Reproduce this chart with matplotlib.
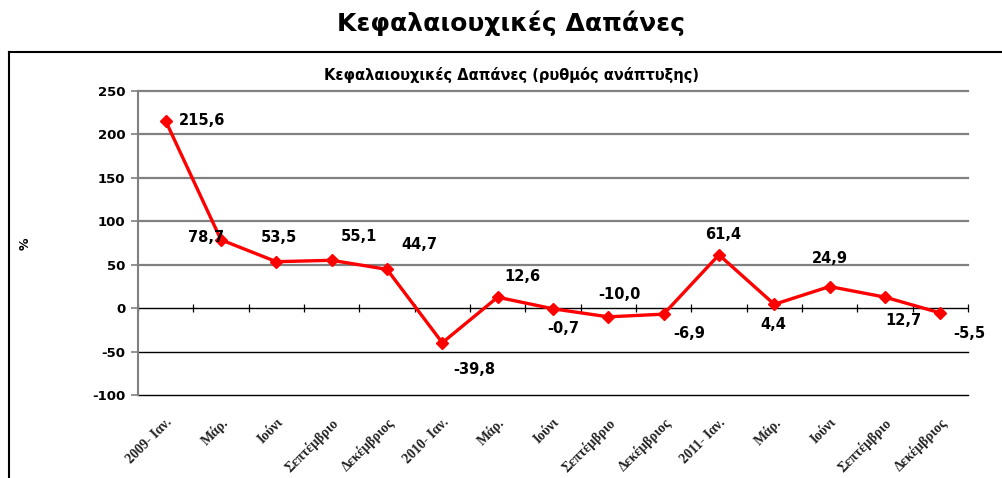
import matplotlib.pyplot as plt
from matplotlib.lines import Line2D
import numpy as np

# Δεδομένα
months = ['2009- Ιαν.', 'Μάρ.', 'Ιούνι', 'Σεπτέμβριο', 'Δεκέμβριος',
          '2010- Ιαν.', 'Μάρ.', 'Ιούνι', 'Σεπτέμβριο', 'Δεκέμβριος',
          '2011- Ιαν.', 'Μάρ.', 'Ιούνι', 'Σεπτέμβριο', 'Δεκέμβριος']
growth = [215.6, 78.7, 53.5, 55.1, 44.7, -39.8, 12.6, -0.7, -10.0, -6.9,
          61.4, 4.4, 24.9, 12.7, -5.5]
yticks = [-100, -50, 0, 50, 100, 150, 200, 250]

# Μετατόπιση ετικετών (pixels)
label_offsets = [(36, 0), (-15, 2), (3, 24), (27, 24), (32, 25), (32, -27),
                 (25, 21), (10, -20), (11, 22), (26, -19), (4, 20),
                 (-1, -20), (0, 28), (18, -23), (29, -21)]

plt.rcParams['font.family'] = ['DejaVu Sans']

fig = plt.figure(figsize=(10.02, 4.78), dpi=100)
ax = fig.add_axes([0.1377, 0.1736, 0.966 - 0.1377, 0.8096 - 0.1736])

x = np.arange(len(months))
ax.set_xlim(-0.5, len(months) - 0.5)
ax.set_ylim(-100, 250)

# Πλέγμα
for t in yticks:
    if t > 0:
        ax.axhline(t, color='#808080', lw=1.6, zorder=1, clip_on=False)
    elif t < 0:
        ax.axhline(t, color='black', lw=1.0, zorder=1, clip_on=False)
ax.axhline(0, color='black', lw=1.0, zorder=2)
# υποδιαιρέσεις στον άξονα 0
ax.plot(np.arange(len(months) + 1) - 0.5, np.zeros(len(months) + 1),
        linestyle='none', marker='|', color='black', markersize=6,
        markeredgewidth=0.9, zorder=2, clip_on=False)

ax.plot(x, growth, color='#ff0000', lw=2.4, marker='D', markersize=6,
        zorder=3, clip_on=False)

for xi, v, off in zip(x, growth, label_offsets):
    ax.annotate(f'{v:.1f}'.replace('.', ','), (xi, v), xytext=off,
                textcoords='offset pixels', ha='center', va='center',
                fontsize=10.5, fontweight='bold')

for s in ['top', 'right', 'bottom']:
    ax.spines[s].set_visible(False)
ax.spines['left'].set_color('#808080')
ax.spines['left'].set_linewidth(1.5)

ax.set_yticks(yticks)
ax.set_yticklabels([str(t) for t in yticks], fontsize=9.5, fontweight='bold')
ax.tick_params(axis='y', length=5, color='#808080', width=1.2, pad=4)

ax.set_xticks(x)
ax.set_xticklabels(months, rotation=45, ha='right', rotation_mode='anchor',
                   fontsize=10, fontweight='bold', family='Liberation Serif',
                   color='#222222')
ax.tick_params(axis='x', length=0, pad=15)

fig.text(0.025, 0.49, '%', rotation=90, ha='center', va='center',
         fontsize=9, fontweight='bold')

fig.text(0.51, 0.843, 'Κεφαλαιουχικές Δαπάνες (ρυθμός ανάπτυξης)',
         ha='center', va='center', fontsize=10.5, fontweight='bold')
fig.text(0.51, 0.952, 'Κεφαλαιουχικές Δαπάνες', ha='center', va='center',
         fontsize=18, fontweight='bold')

# Πλαίσιο
fig.add_artist(Line2D([9 / 1002, 1.0], [1 - 52 / 478, 1 - 52 / 478],
                      color='black', lw=1.5, transform=fig.transFigure))
fig.add_artist(Line2D([9 / 1002, 9 / 1002], [0, 1 - 52 / 478],
                      color='black', lw=1.5, transform=fig.transFigure))

plt.savefig('out.png', dpi=100)
